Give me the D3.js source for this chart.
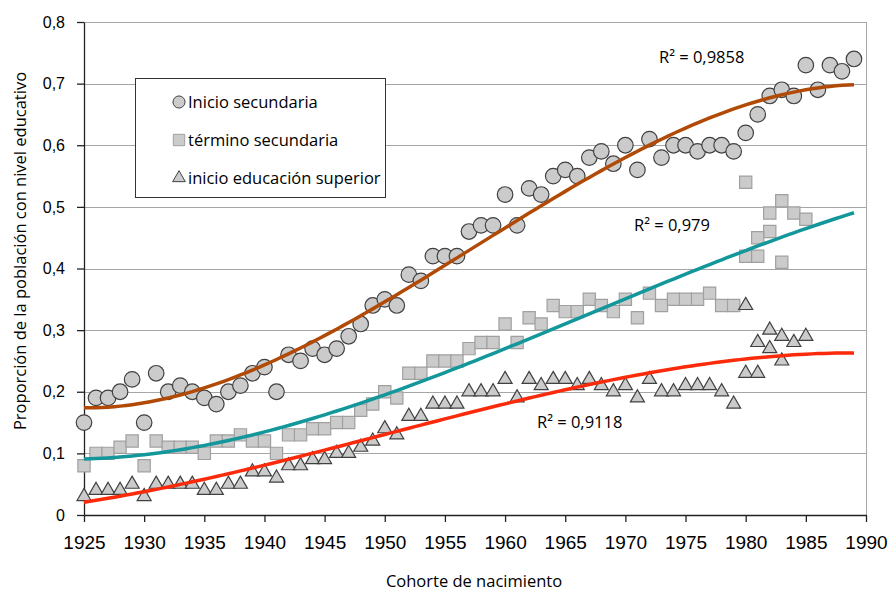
<!DOCTYPE html>
<html>
<head>
<meta charset="utf-8">
<script src="https://cdn.jsdelivr.net/npm/d3@7"></script>
<style>
  body { margin: 0; background: #fff; }
  .tick text { font-family: "Liberation Sans", Arial, sans-serif; fill: #000; }
  .lbl { font-family: "Open Sans", sans-serif; font-size: 16.5px; fill: #000; }
</style>
</head>
<body>
<div id="chart"></div>
<script>
// Chart data
var circleYears = d3.range(1925, 1990);
var circleValues = [
  0.15, 0.19, 0.19, 0.20, 0.22, 0.15, 0.23, 0.20, 0.21, 0.20,
  0.19, 0.18, 0.20, 0.21, 0.23, 0.24, 0.20, 0.26, 0.25, 0.27,
  0.26, 0.27, 0.29, 0.31, 0.34, 0.35, 0.34, 0.39, 0.38, 0.42,
  0.42, 0.42, 0.46, 0.47, 0.47, 0.52, 0.47, 0.53, 0.52, 0.55,
  0.56, 0.55, 0.58, 0.59, 0.57, 0.60, 0.56, 0.61, 0.58, 0.60,
  0.60, 0.59, 0.60, 0.60, 0.59, 0.62, 0.65, 0.68, 0.69, 0.68,
  0.73, 0.69, 0.73, 0.72, 0.74
];

var squareYears = d3.range(1925, 1986).concat([1980, 1981, 1982, 1983]);
var squareValues = [
  0.08, 0.10, 0.10, 0.11, 0.12, 0.08, 0.12, 0.11, 0.11, 0.11,
  0.10, 0.12, 0.12, 0.13, 0.12, 0.12, 0.10, 0.13, 0.13, 0.14,
  0.14, 0.15, 0.15, 0.17, 0.18, 0.20, 0.19, 0.23, 0.23, 0.25,
  0.25, 0.25, 0.27, 0.28, 0.28, 0.31, 0.28, 0.32, 0.31, 0.34,
  0.33, 0.33, 0.35, 0.34, 0.33, 0.35, 0.32, 0.36, 0.34, 0.35,
  0.35, 0.35, 0.36, 0.34, 0.34,
  0.42, 0.42, 0.46, 0.41, 0.49, 0.48,
  0.54, 0.45, 0.49, 0.51
];

var triangleYears = d3.range(1925, 1986).concat([1980, 1981, 1982, 1983]);
var triangleValues = [
  0.03, 0.04, 0.04, 0.04, 0.05, 0.03, 0.05, 0.05, 0.05, 0.05,
  0.04, 0.04, 0.05, 0.05, 0.07, 0.07, 0.06, 0.08, 0.08, 0.09,
  0.09, 0.10, 0.10, 0.11, 0.12, 0.14, 0.13, 0.16, 0.16, 0.18,
  0.18, 0.18, 0.20, 0.20, 0.20, 0.22, 0.19, 0.22, 0.21, 0.22,
  0.22, 0.21, 0.22, 0.21, 0.20, 0.21, 0.19, 0.22, 0.20, 0.20,
  0.21, 0.21, 0.21, 0.20, 0.18,
  0.23, 0.23, 0.27, 0.25, 0.28, 0.29,
  0.34, 0.28, 0.30, 0.29
];

var legendNames = ["Inicio secundaria", "término secundaria", "inicio educación superior"];
var r2Labels = ["R² = 0,9858", "R² = 0,979", "R² = 0,9118"];
var xTicks = d3.range(1925, 1991, 5);
var yTicks = [0, 0.1, 0.2, 0.3, 0.4, 0.5, 0.6, 0.7, 0.8];

var svgWidth = 895;
var svgHeight = 593;
var plotLeft = 84, plotRight = 866, plotTop = 22, plotBottom = 515;

var svg = d3.select("#chart")
  .append("svg")
  .attr("width", svgWidth)
  .attr("height", svgHeight);

var xScale = d3.scaleLinear().domain([1925, 1990]).range([plotLeft, plotRight]);
var yScale = d3.scaleLinear().domain([0, 0.8]).range([plotBottom, plotTop]);

// gridlines
svg.append("g")
  .selectAll("line")
  .data(yTicks.slice(1))
  .enter()
  .append("line")
  .attr("x1", plotLeft)
  .attr("x2", plotRight)
  .attr("y1", d => Math.round(yScale(d)) + 0.5)
  .attr("y2", d => Math.round(yScale(d)) + 0.5)
  .attr("stroke", "#a6a6a6")
  .attr("stroke-width", 1);

svg.append("line")
  .attr("x1", plotRight + 0.5).attr("x2", plotRight + 0.5)
  .attr("y1", plotTop).attr("y2", plotBottom)
  .attr("stroke", "#a6a6a6");

// axes
var fmt = d => d === 0 ? "0" : d3.format(".1f")(d).replace(".", ",");

var xAxis = svg.append("g")
  .attr("transform", "translate(0," + plotBottom + ")")
  .call(d3.axisBottom(xScale).tickValues(xTicks).tickFormat(d3.format("d")).tickSize(7).tickSizeOuter(0).tickPadding(14));
xAxis.selectAll("text").attr("font-size", 19);

var yAxis = svg.append("g")
  .attr("transform", "translate(" + plotLeft + ",0)")
  .call(d3.axisLeft(yScale).tickValues(yTicks).tickFormat(fmt).tickSize(7).tickSizeOuter(0).tickPadding(12));
yAxis.selectAll("text").attr("font-size", 16);

svg.selectAll(".domain, .tick line").attr("stroke", "#222").attr("stroke-width", 1.3);

// series
var series = [
  { years: circleYears, values: circleValues, shape: d3.symbolCircle, size: 190, stroke: "#404040", line: "#b14a06" },
  { years: squareYears, values: squareValues, shape: d3.symbolSquare, size: 150, stroke: "#a0a0a0", line: "#13979a" },
  { years: triangleYears, values: triangleValues, shape: d3.symbolTriangle, size: 85, stroke: "#404040", line: "#fa2a0a" }
];

series.forEach(function(s) {
  svg.append("g")
    .selectAll("path")
    .data(s.years.map((yr, i) => [yr, s.values[i]]))
    .enter()
    .append("path")
    .attr("d", d3.symbol().type(s.shape).size(s.size))
    .attr("transform", d => "translate(" + xScale(d[0]) + "," + yScale(d[1]) + ")")
    .attr("fill", "#cbcbcb")
    .attr("stroke", s.stroke)
    .attr("stroke-width", 1.2);
});

// cubic polynomial trendlines (least squares)
function polyfit(xs, ys, order) {
  var n = order + 1;
  var A = [];
  for (var i = 0; i < n; i++) {
    A.push(new Array(n + 1).fill(0));
  }
  xs.forEach(function(x, k) {
    for (var i = 0; i < n; i++) {
      for (var j = 0; j < n; j++) A[i][j] += Math.pow(x, i + j);
      A[i][n] += ys[k] * Math.pow(x, i);
    }
  });
  for (var c = 0; c < n; c++) {
    var p = c;
    for (var r = c + 1; r < n; r++) if (Math.abs(A[r][c]) > Math.abs(A[p][c])) p = r;
    var tmp = A[c]; A[c] = A[p]; A[p] = tmp;
    for (var r2 = 0; r2 < n; r2++) {
      if (r2 === c) continue;
      var f = A[r2][c] / A[c][c];
      for (var k = c; k <= n; k++) A[r2][k] -= f * A[c][k];
    }
  }
  return A.map((row, i) => row[n] / A[i][i]);
}

var fitYears = d3.range(1925, 1989.01, 0.5);
series.forEach(function(s) {
  var coef = polyfit(s.years.map(d => (d - 1957) / 10), s.values, 3);
  var fit = fitYears.map(function(yr) {
    var t = (yr - 1957) / 10;
    return [yr, coef[0] + coef[1] * t + coef[2] * t * t + coef[3] * t * t * t];
  });
  svg.append("path")
    .datum(fit)
    .attr("d", d3.line().x(d => xScale(d[0])).y(d => yScale(d[1])))
    .attr("fill", "none")
    .attr("stroke", s.line)
    .attr("stroke-width", 3.5);
});

// R² labels
var r2Pos = [[659, 63], [634, 231], [537, 428]];
svg.selectAll(".r2")
  .data(r2Labels)
  .enter()
  .append("text")
  .attr("class", "lbl")
  .attr("x", (d, i) => r2Pos[i][0])
  .attr("y", (d, i) => r2Pos[i][1])
  .text(d => d);

// legend
var legend = svg.append("g").attr("transform", "translate(135,78)");
legend.append("rect")
  .attr("x", 0.5).attr("y", 0.5)
  .attr("width", 250).attr("height", 119)
  .attr("fill", "#fff")
  .attr("stroke", "#333")
  .attr("stroke-width", 1);

var legendShapes = [d3.symbolCircle, d3.symbolSquare, d3.symbolTriangle];
var legendSizes = [115, 130, 70];
var legendStroke = ["#404040", "#a0a0a0", "#404040"];
legendNames.forEach(function(name, i) {
  var cy = 24 + i * 38;
  legend.append("path")
    .attr("d", d3.symbol().type(legendShapes[i]).size(legendSizes[i]))
    .attr("transform", "translate(44," + cy + ")")
    .attr("fill", "#cbcbcb")
    .attr("stroke", legendStroke[i])
    .attr("stroke-width", 1);
  legend.append("text")
    .attr("class", "lbl")
    .attr("x", 53)
    .attr("y", cy + 6)
    .text(name);
});

// axis titles
svg.append("text")
  .attr("class", "lbl")
  .attr("text-anchor", "middle")
  .attr("x", 474)
  .attr("y", 587)
  .text("Cohorte de nacimiento");

svg.append("text")
  .attr("class", "lbl")
  .attr("text-anchor", "middle")
  .attr("transform", "translate(26,251)rotate(-90)")
  .text("Proporción de la población con nivel educativo");
</script>
</body>
</html>
